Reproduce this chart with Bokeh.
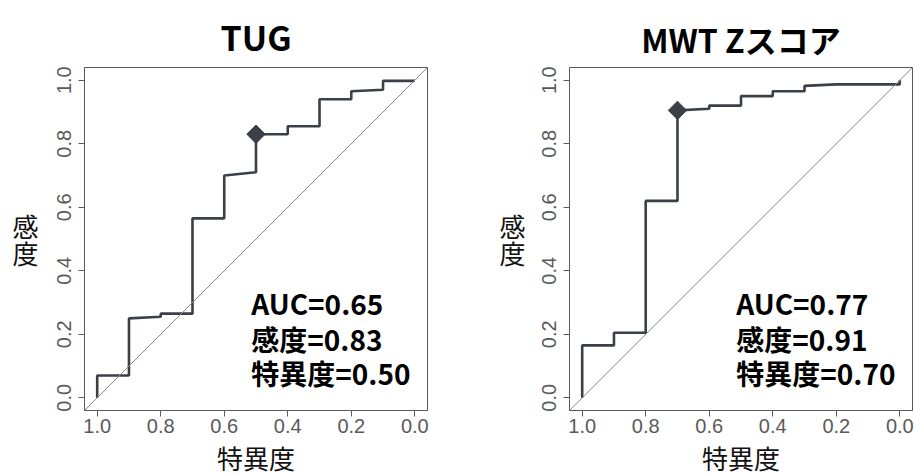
import numpy as np
from bokeh.plotting import figure
from bokeh.models import Range1d, FixedTicker, Label, Slope
from bokeh.layouts import row
from bokeh.embed import file_html
from bokeh.resources import INLINE

# ---------------- data ----------------
tick_values = [0.0, 0.2, 0.4, 0.6, 0.8, 1.0]
tick_labels = ["0.0", "0.2", "0.4", "0.6", "0.8", "1.0"]

titles = ["TUG", "MWT Zスコア"]

tug_spec = [1.0, 1.0, 0.9, 0.9, 0.8, 0.8, 0.7, 0.7, 0.6, 0.6, 0.5, 0.5, 0.4, 0.4, 0.3, 0.3, 0.2, 0.2, 0.1, 0.1, 0.0]
tug_sens = [0.0, 0.07, 0.07, 0.25, 0.255, 0.265, 0.265, 0.565, 0.565, 0.70, 0.71, 0.83, 0.83, 0.855, 0.855, 0.94, 0.94, 0.965, 0.97, 0.998, 0.998]
tug_best = (0.50, 0.83)
tug_stats = ["AUC=0.65", "感度=0.83", "特異度=0.50"]

mwt_spec = [1.0, 1.0, 0.9, 0.9, 0.8, 0.8, 0.7, 0.7, 0.6, 0.6, 0.5, 0.5, 0.4, 0.4, 0.3, 0.3, 0.2, 0.0, 0.0]
mwt_sens = [0.0, 0.165, 0.165, 0.205, 0.205, 0.62, 0.62, 0.905, 0.91, 0.92, 0.92, 0.95, 0.95, 0.965, 0.965, 0.982, 0.987, 0.987, 1.0]
mwt_best = (0.70, 0.905)
mwt_stats = ["AUC=0.77", "感度=0.91", "特異度=0.70"]

x_label = "特異度"
y_label = "感\n度"

# ---------------- style ----------------
CJK = "Noto Sans CJK JP"
CURVE = "#3b3f46"
GREY = "#5a5a5a"
FRAME = 343
X0, X1 = 1.04, -0.04
Y0, Y1 = -0.04, 1.04
TOP = 67
BOTTOM = 64


def make_plot(title, spec, sens, best, stats, b_left, b_right, title_size, title_standoff, ylab_standoff):
    p = figure(width=b_left + FRAME + b_right, height=TOP + FRAME + BOTTOM,
               frame_width=FRAME, frame_height=FRAME,
               min_border_left=b_left, min_border_right=b_right,
               min_border_top=TOP, min_border_bottom=BOTTOM,
               x_range=Range1d(X0, X1), y_range=Range1d(Y0, Y1),
               output_backend="svg", toolbar_location=None)
    p.grid.visible = False
    p.outline_line_color = GREY
    p.outline_line_width = 1
    p.background_fill_color = "white"
    p.border_fill_color = "white"

    p.title.text = title
    p.title.align = "center"
    p.title.text_font = CJK
    p.title.text_font_style = "bold"
    p.title.text_font_size = title_size
    p.title.text_color = "black"
    p.title.standoff = title_standoff

    overrides = {v: l for v, l in zip(tick_values, tick_labels)}
    for ax in (p.xaxis[0], p.yaxis[0]):
        ax.ticker = FixedTicker(ticks=tick_values)
        ax.major_label_overrides = overrides
        ax.axis_line_color = GREY
        ax.major_tick_line_color = GREY
        ax.major_tick_out = 6
        ax.major_tick_in = 0
        ax.minor_tick_line_color = None
        ax.major_label_text_font = "Liberation Sans"
        ax.major_label_text_font_size = "20px"
        ax.major_label_text_color = GREY
        ax.axis_label_text_font = CJK
        ax.axis_label_text_font_size = "26px"
        ax.axis_label_text_font_style = "normal"
        ax.axis_label_text_color = "#111111"
    p.yaxis.major_label_orientation = "vertical"
    p.yaxis.major_label_standoff = 7
    p.xaxis.major_label_standoff = 2

    p.xaxis.axis_label = x_label
    p.xaxis.axis_label_standoff = 3
    p.yaxis.axis_label = y_label
    p.yaxis.axis_label_standoff = ylab_standoff
    yax = p.yaxis[0]
    if hasattr(yax, "axis_label_orientation"):
        yax.axis_label_orientation = "horizontal"
    yax.axis_label_text_line_height = 0.72

    # diagonal reference
    p.add_layout(Slope(gradient=-1, y_intercept=1, line_color="#8a8a8a", line_width=1))

    p.line(spec, sens, line_color=CURVE, line_width=2.6)
    p.scatter([best[0]], [best[1]], marker="square", angle=np.pi / 4, size=13,
              fill_color=CURVE, line_color=CURVE)

    # statistics text
    for txt, yy in zip(stats, [0.298, 0.184, 0.077]):
        p.add_layout(Label(x=0.515, y=yy, text=txt, text_font=CJK, text_font_style="bold",
                           text_font_size="28px", text_color="black",
                           text_align="left", text_baseline="middle"))
    return p


p1 = make_plot(titles[0], tug_spec, tug_sens, tug_best, tug_stats, 84, 52, "34px", 14, 16)
p2 = make_plot(titles[1], mwt_spec, mwt_sens, mwt_best, mwt_stats, 90, 2, "32px", 12, 14)

layout = row(p1, p2)
open("out.html", "w").write(file_html(layout, INLINE))
